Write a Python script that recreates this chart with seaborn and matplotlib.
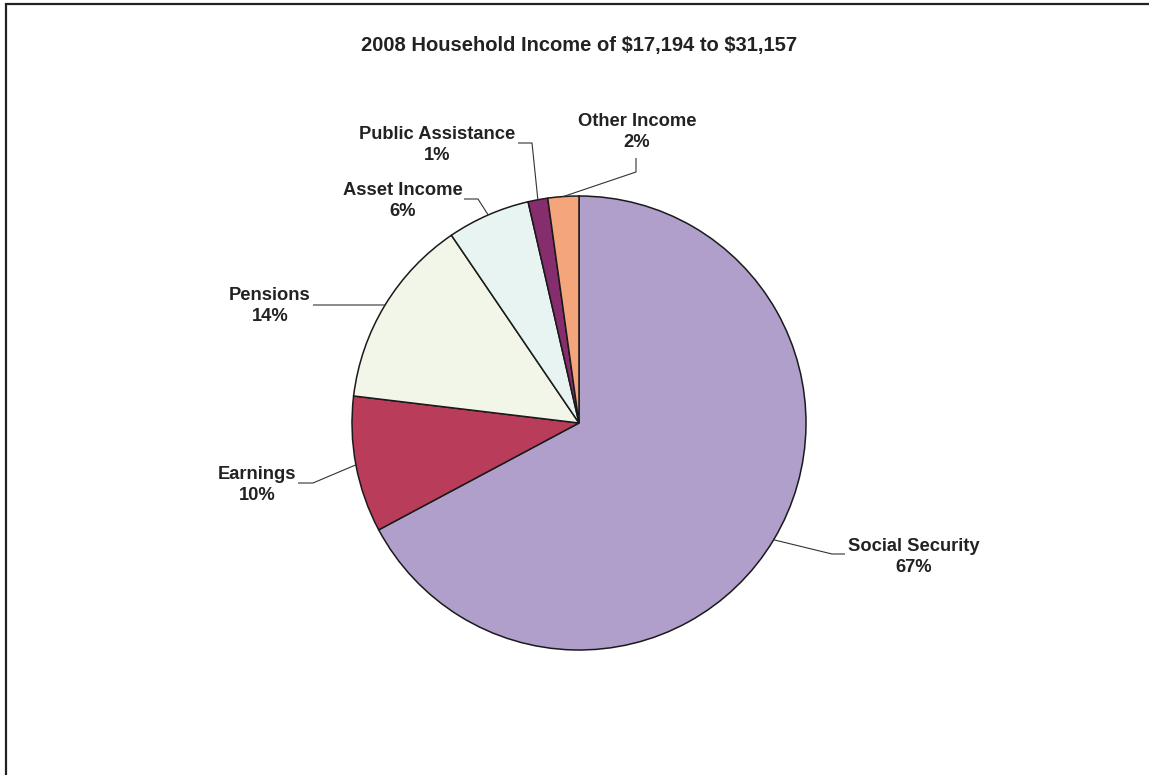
import numpy as np
import matplotlib
matplotlib.use("Agg")
import matplotlib.pyplot as plt
import seaborn as sns
from matplotlib.patches import Rectangle

# ---- data ----
categories = ["Social Security", "Earnings", "Pensions", "Asset Income",
              "Public Assistance", "Other Income"]
shares = [67.2, 9.7, 13.6, 5.9, 1.4, 2.2]
pct_labels = ["67%", "10%", "14%", "6%", "1%", "2%"]
colors = ["#B09ECB", "#B93C5A", "#F2F6E9", "#E7F4F1", "#862D6E", "#F4A57B"]
title = "2008 Household Income of \\$17,194 to \\$31,157"

sns.set_theme(style="white")
plt.rcParams["font.family"] = ["Liberation Sans", "DejaVu Sans"]

W, H = 1149, 775
fig = plt.figure(figsize=(W / 100, H / 100), dpi=100)
ax = fig.add_axes([0, 0, 1, 1])

def P(x, y):
    """pixel (top-left origin) -> data coords"""
    return x, H - y

cx, cy = P(579, 423)
R = 227
wedges, _ = ax.pie(shares, colors=colors, startangle=90, counterclock=False,
                   center=(cx, cy), radius=R,
                   wedgeprops=dict(edgecolor="#1a1a1a", linewidth=1.1))
ax.set_xlim(0, W)
ax.set_ylim(0, H)
ax.set_aspect("equal")
ax.axis("off")

# label layout (pixel positions)
text_pos = [(914, 557), (257, 485), (270, 306), (403, 201), (437, 145), (637, 132)]
elbow_pos = [[(832, 554), (845, 554)],
             [(313, 483), (298, 483)],
             [(313, 305)],
             [(478, 199), (464, 199)],
             [(532, 143), (518, 143)],
             [(636, 172), (636, 158)]]

for w, name, pct, tp, elb in zip(wedges, categories, pct_labels, text_pos, elbow_pos):
    ang = np.deg2rad((w.theta1 + w.theta2) / 2)
    ex, ey = cx + R * np.cos(ang), cy + R * np.sin(ang)
    xs = [ex] + [P(*p)[0] for p in elb]
    ys = [ey] + [P(*p)[1] for p in elb]
    ax.plot(xs, ys, color="#333333", lw=0.8, solid_capstyle="butt")
    tx, ty = P(*tp)
    ax.text(tx, ty, f"{name}\n{pct}", ha="center", va="center",
            multialignment="center", fontsize=13.2, fontweight="bold",
            color="#222222", linespacing=1.35)

fig.text(579 / W, 1 - 45 / H, title, ha="center", va="center",
         fontsize=14.5, fontweight="bold", color="#222222")

# outer frame (extends past right/bottom edges)
fig.patches.append(Rectangle((6 / W, -0.05), 1.2, 1 - 3.5 / H + 0.05,
                             transform=fig.transFigure, fill=False,
                             edgecolor="#222222", linewidth=1.6))

fig.savefig("out.png", dpi=100, facecolor="white")
